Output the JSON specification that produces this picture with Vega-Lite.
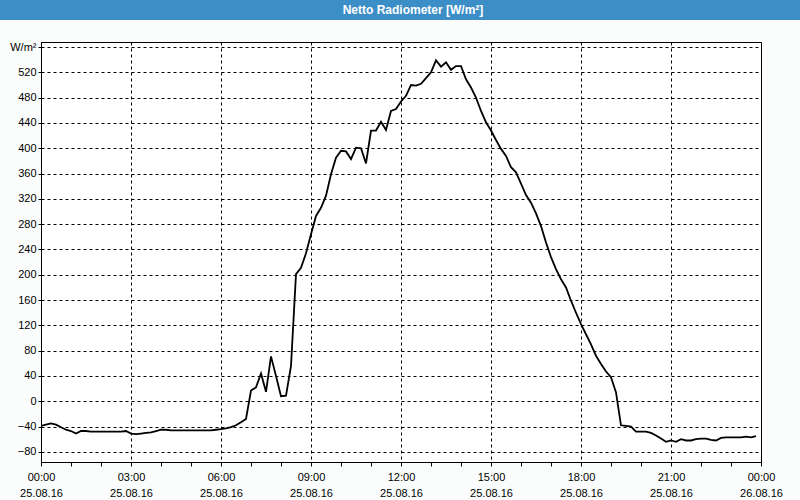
{
  "$schema": "https://vega.github.io/schema/vega-lite/v6.json",
  "padding": 0,
  "background": "#fbfdfc",
  "spacing": 20,
  "config": {"font": "Liberation Sans"},
  "vconcat": [
    {
      "width": 800,
      "height": 20,
      "view": {"fill": "#3b8ec6", "stroke": null},
      "data": {"values": [{"title": "Netto Radiometer [W/m²]"}]},
      "mark": {"type": "text", "color": "white", "font": "Liberation Sans", "fontSize": 12, "fontWeight": "bold", "dx": 13, "baseline": "middle"},
      "encoding": {"text": {"field": "title"}}
    },
    {
      "spacing": 0,
      "hconcat": [
        {
          "width": 1,
          "height": 1,
          "view": {"fill": null, "stroke": null},
          "data": {"values": []},
          "mark": {"type": "point", "opacity": 0},
          "encoding": {}
        },
        {
          "width": 720,
          "height": 420,
          "view": {"fill": "white", "stroke": "black", "strokeWidth": 1},
          "data": {"values": [
            {"t": "2016-08-25T00:00", "v": -39}, {"t": "2016-08-25T00:10", "v": -37}, {"t": "2016-08-25T00:20", "v": -35}, {"t": "2016-08-25T00:30", "v": -37},
            {"t": "2016-08-25T00:40", "v": -41}, {"t": "2016-08-25T00:50", "v": -45}, {"t": "2016-08-25T01:00", "v": -47}, {"t": "2016-08-25T01:10", "v": -51},
            {"t": "2016-08-25T01:20", "v": -47}, {"t": "2016-08-25T01:30", "v": -47}, {"t": "2016-08-25T01:40", "v": -48}, {"t": "2016-08-25T01:50", "v": -48},
            {"t": "2016-08-25T02:00", "v": -48}, {"t": "2016-08-25T02:10", "v": -48}, {"t": "2016-08-25T02:20", "v": -48}, {"t": "2016-08-25T02:30", "v": -48},
            {"t": "2016-08-25T02:40", "v": -48}, {"t": "2016-08-25T02:50", "v": -47}, {"t": "2016-08-25T03:00", "v": -51}, {"t": "2016-08-25T03:10", "v": -52},
            {"t": "2016-08-25T03:20", "v": -51}, {"t": "2016-08-25T03:30", "v": -50}, {"t": "2016-08-25T03:40", "v": -49}, {"t": "2016-08-25T03:50", "v": -47},
            {"t": "2016-08-25T04:00", "v": -45}, {"t": "2016-08-25T04:10", "v": -45}, {"t": "2016-08-25T04:20", "v": -46}, {"t": "2016-08-25T04:30", "v": -46},
            {"t": "2016-08-25T04:40", "v": -46}, {"t": "2016-08-25T04:50", "v": -46}, {"t": "2016-08-25T05:00", "v": -46}, {"t": "2016-08-25T05:10", "v": -46},
            {"t": "2016-08-25T05:20", "v": -46}, {"t": "2016-08-25T05:30", "v": -46}, {"t": "2016-08-25T05:40", "v": -46}, {"t": "2016-08-25T05:50", "v": -45},
            {"t": "2016-08-25T06:00", "v": -44}, {"t": "2016-08-25T06:10", "v": -43}, {"t": "2016-08-25T06:20", "v": -41}, {"t": "2016-08-25T06:30", "v": -38},
            {"t": "2016-08-25T06:40", "v": -33}, {"t": "2016-08-25T06:50", "v": -28}, {"t": "2016-08-25T07:00", "v": 17}, {"t": "2016-08-25T07:10", "v": 22},
            {"t": "2016-08-25T07:20", "v": 44}, {"t": "2016-08-25T07:30", "v": 15}, {"t": "2016-08-25T07:40", "v": 71}, {"t": "2016-08-25T07:50", "v": 40},
            {"t": "2016-08-25T08:00", "v": 8}, {"t": "2016-08-25T08:10", "v": 9}, {"t": "2016-08-25T08:20", "v": 56}, {"t": "2016-08-25T08:30", "v": 201},
            {"t": "2016-08-25T08:40", "v": 211}, {"t": "2016-08-25T08:50", "v": 234}, {"t": "2016-08-25T09:00", "v": 264}, {"t": "2016-08-25T09:10", "v": 293},
            {"t": "2016-08-25T09:20", "v": 306}, {"t": "2016-08-25T09:30", "v": 325}, {"t": "2016-08-25T09:40", "v": 359}, {"t": "2016-08-25T09:50", "v": 385},
            {"t": "2016-08-25T10:00", "v": 396}, {"t": "2016-08-25T10:10", "v": 395}, {"t": "2016-08-25T10:20", "v": 383}, {"t": "2016-08-25T10:30", "v": 401},
            {"t": "2016-08-25T10:40", "v": 400}, {"t": "2016-08-25T10:50", "v": 376}, {"t": "2016-08-25T11:00", "v": 428}, {"t": "2016-08-25T11:10", "v": 428},
            {"t": "2016-08-25T11:20", "v": 442}, {"t": "2016-08-25T11:30", "v": 429}, {"t": "2016-08-25T11:40", "v": 459}, {"t": "2016-08-25T11:50", "v": 462},
            {"t": "2016-08-25T12:00", "v": 474}, {"t": "2016-08-25T12:10", "v": 483}, {"t": "2016-08-25T12:20", "v": 500}, {"t": "2016-08-25T12:30", "v": 499},
            {"t": "2016-08-25T12:40", "v": 502}, {"t": "2016-08-25T12:50", "v": 511}, {"t": "2016-08-25T13:00", "v": 520}, {"t": "2016-08-25T13:10", "v": 539},
            {"t": "2016-08-25T13:20", "v": 529}, {"t": "2016-08-25T13:30", "v": 536}, {"t": "2016-08-25T13:40", "v": 524}, {"t": "2016-08-25T13:50", "v": 530},
            {"t": "2016-08-25T14:00", "v": 530}, {"t": "2016-08-25T14:10", "v": 509}, {"t": "2016-08-25T14:20", "v": 496}, {"t": "2016-08-25T14:30", "v": 480},
            {"t": "2016-08-25T14:40", "v": 459}, {"t": "2016-08-25T14:50", "v": 441}, {"t": "2016-08-25T15:00", "v": 428}, {"t": "2016-08-25T15:10", "v": 413},
            {"t": "2016-08-25T15:20", "v": 399}, {"t": "2016-08-25T15:30", "v": 388}, {"t": "2016-08-25T15:40", "v": 370}, {"t": "2016-08-25T15:50", "v": 362},
            {"t": "2016-08-25T16:00", "v": 344}, {"t": "2016-08-25T16:10", "v": 326}, {"t": "2016-08-25T16:20", "v": 314}, {"t": "2016-08-25T16:30", "v": 297},
            {"t": "2016-08-25T16:40", "v": 277}, {"t": "2016-08-25T16:50", "v": 251}, {"t": "2016-08-25T17:00", "v": 228}, {"t": "2016-08-25T17:10", "v": 209},
            {"t": "2016-08-25T17:20", "v": 193}, {"t": "2016-08-25T17:30", "v": 180}, {"t": "2016-08-25T17:40", "v": 159}, {"t": "2016-08-25T17:50", "v": 140},
            {"t": "2016-08-25T18:00", "v": 122}, {"t": "2016-08-25T18:10", "v": 106}, {"t": "2016-08-25T18:20", "v": 90}, {"t": "2016-08-25T18:30", "v": 72},
            {"t": "2016-08-25T18:40", "v": 59}, {"t": "2016-08-25T18:50", "v": 47}, {"t": "2016-08-25T19:00", "v": 38}, {"t": "2016-08-25T19:10", "v": 14},
            {"t": "2016-08-25T19:20", "v": -38}, {"t": "2016-08-25T19:30", "v": -39}, {"t": "2016-08-25T19:40", "v": -40}, {"t": "2016-08-25T19:50", "v": -48},
            {"t": "2016-08-25T20:00", "v": -48}, {"t": "2016-08-25T20:10", "v": -48}, {"t": "2016-08-25T20:20", "v": -50}, {"t": "2016-08-25T20:30", "v": -54},
            {"t": "2016-08-25T20:40", "v": -59}, {"t": "2016-08-25T20:50", "v": -64}, {"t": "2016-08-25T21:00", "v": -62}, {"t": "2016-08-25T21:10", "v": -64},
            {"t": "2016-08-25T21:20", "v": -60}, {"t": "2016-08-25T21:30", "v": -62}, {"t": "2016-08-25T21:40", "v": -62}, {"t": "2016-08-25T21:50", "v": -60},
            {"t": "2016-08-25T22:00", "v": -59}, {"t": "2016-08-25T22:10", "v": -59}, {"t": "2016-08-25T22:20", "v": -61}, {"t": "2016-08-25T22:30", "v": -62},
            {"t": "2016-08-25T22:40", "v": -58}, {"t": "2016-08-25T22:50", "v": -57}, {"t": "2016-08-25T23:00", "v": -57}, {"t": "2016-08-25T23:10", "v": -57},
            {"t": "2016-08-25T23:20", "v": -57}, {"t": "2016-08-25T23:30", "v": -56}, {"t": "2016-08-25T23:40", "v": -57}, {"t": "2016-08-25T23:50", "v": -55}
          ]},
          "mark": {"type": "line", "color": "black", "strokeWidth": 1.8, "strokeJoin": "miter", "clip": true},
          "encoding": {
            "x": {
              "field": "t", "type": "temporal",
              "scale": {"domain": [{"year": 2016, "month": 8, "date": 25, "hours": 0}, {"year": 2016, "month": 8, "date": 26, "hours": 0}], "nice": false},
              "axis": {
                "title": null,
                "values": [
                  {"year": 2016, "month": 8, "date": 25, "hours": 0}, {"year": 2016, "month": 8, "date": 25, "hours": 1}, {"year": 2016, "month": 8, "date": 25, "hours": 2},
                  {"year": 2016, "month": 8, "date": 25, "hours": 3}, {"year": 2016, "month": 8, "date": 25, "hours": 4}, {"year": 2016, "month": 8, "date": 25, "hours": 5},
                  {"year": 2016, "month": 8, "date": 25, "hours": 6}, {"year": 2016, "month": 8, "date": 25, "hours": 7}, {"year": 2016, "month": 8, "date": 25, "hours": 8},
                  {"year": 2016, "month": 8, "date": 25, "hours": 9}, {"year": 2016, "month": 8, "date": 25, "hours": 10}, {"year": 2016, "month": 8, "date": 25, "hours": 11},
                  {"year": 2016, "month": 8, "date": 25, "hours": 12}, {"year": 2016, "month": 8, "date": 25, "hours": 13}, {"year": 2016, "month": 8, "date": 25, "hours": 14},
                  {"year": 2016, "month": 8, "date": 25, "hours": 15}, {"year": 2016, "month": 8, "date": 25, "hours": 16}, {"year": 2016, "month": 8, "date": 25, "hours": 17},
                  {"year": 2016, "month": 8, "date": 25, "hours": 18}, {"year": 2016, "month": 8, "date": 25, "hours": 19}, {"year": 2016, "month": 8, "date": 25, "hours": 20},
                  {"year": 2016, "month": 8, "date": 25, "hours": 21}, {"year": 2016, "month": 8, "date": 25, "hours": 22}, {"year": 2016, "month": 8, "date": 25, "hours": 23},
                  {"year": 2016, "month": 8, "date": 26, "hours": 0}
                ],
                "labelExpr": "hours(datum.value) % 3 == 0 ? [timeFormat(datum.value, '%H:%M'), timeFormat(datum.value, '%d.%m.%y')] : ''",
                "labelFont": "Liberation Sans", "labelFontSize": 11, "labelColor": "black",
                "labelLineHeight": 16, "labelPadding": 5, "labelBaseline": "top",
                "labelOverlap": false, "labelFlush": false, "labelBound": false,
                "domainColor": "black", "domainWidth": 1,
                "tickColor": "black", "tickSize": 4, "tickWidth": 1,
                "grid": true, "gridColor": "black", "gridDash": [3, 3], "gridWidth": 1,
                "gridOpacity": {"condition": {"test": "hours(datum.value) % 3 == 0", "value": 1}, "value": 0}
              }
            },
            "y": {
              "field": "v", "type": "quantitative",
              "scale": {"domain": [-96, 568], "nice": false, "zero": false},
              "axis": {
                "title": null,
                "values": [-80, -40, 0, 40, 80, 120, 160, 200, 240, 280, 320, 360, 400, 440, 480, 520, 560],
                "labelExpr": "datum.value == 560 ? 'W/m²' : datum.label",
                "labelFont": "Liberation Sans", "labelFontSize": 11, "labelColor": "black",
                "labelPadding": 2, "labelOverlap": false, "labelFlush": false,
                "minExtent": 39, "maxExtent": 39,
                "domainColor": "black", "domainWidth": 1,
                "tickColor": "black", "tickSize": 3, "tickWidth": 1,
                "grid": true, "gridColor": "black", "gridDash": [3, 3], "gridWidth": 1
              }
            }
          }
        }
      ]
    }
  ]
}
